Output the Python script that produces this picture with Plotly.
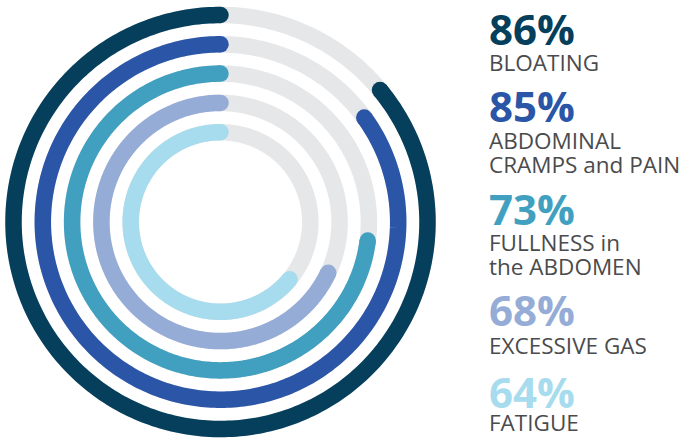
import numpy as np
import plotly.graph_objects as go

# Data
categories = ["BLOATING", "ABDOMINAL\nCRAMPS and PAIN", "FULLNESS in\nthe ABDOMEN", "EXCESSIVE GAS", "FATIGUE"]
values = [86, 85, 73, 68, 64]
colors = ["#063f5c", "#2b55a6", "#41a0bf", "#95acd6", "#a7dcee"]
track_color = "#e6e7e9"
label_color = "#4a4b4d"

W, H = 683, 441
cx, cy = 220.5, 222.0
S = 218.0
ring_outer = 207.0
ring_step = 29.3
ring_w = 16.5

fig = go.Figure()

for i, (v, c) in enumerate(zip(values, colors)):
    r = ring_outer - i * ring_step
    full = np.linspace(0, 360, 361)
    fig.add_trace(go.Scatterpolar(r=[r] * len(full), theta=full, mode="lines",
                                  line=dict(color=track_color, width=ring_w),
                                  hoverinfo="skip", showlegend=False))
for i, (v, c) in enumerate(zip(values, colors)):
    r = ring_outer - i * ring_step
    th = np.linspace(0, v / 100 * 360, 300)
    fig.add_trace(go.Scatterpolar(r=[r] * len(th), theta=th, mode="lines",
                                  line=dict(color=c, width=ring_w),
                                  hoverinfo="skip", showlegend=False))
    fig.add_trace(go.Scatterpolar(r=[r, r], theta=[th[0], th[-1]], mode="markers",
                                  marker=dict(color=c, size=ring_w, line=dict(width=0)),
                                  hoverinfo="skip", showlegend=False))

fig.update_layout(
    width=W, height=H,
    margin=dict(l=0, r=0, t=0, b=0),
    paper_bgcolor="white", plot_bgcolor="white",
    polar=dict(
        domain=dict(x=[(cx - S) / W, (cx + S) / W], y=[(H - cy - S) / H, (H - cy + S) / H]),
        bgcolor="white",
        radialaxis=dict(visible=False, range=[0, S]),
        angularaxis=dict(visible=False, rotation=90, direction="counterclockwise"),
    ),
)

# Text blocks
pct_y = [27.5, 105, 208, 309, 391]
label_lines_y = [[61.5], [139.5, 163.5], [241.5, 266], [345], [421.5]]
tx = 487
for i, (v, c, cat) in enumerate(zip(values, colors, categories)):
    fig.add_annotation(x=tx / W, y=1 - pct_y[i] / H, xref="paper", yref="paper",
                       xanchor="left", yanchor="middle", showarrow=False,
                       text=f"<b>{v}%</b>", height=34, valign="middle",
                       font=dict(family="Open Sans", size=42, color=c))
    for line, ly in zip(cat.split("\n"), label_lines_y[i]):
        fig.add_annotation(x=tx / W, y=1 - ly / H, xref="paper", yref="paper",
                           xanchor="left", yanchor="middle", showarrow=False,
                           text=line, height=20, valign="middle",
                           font=dict(family="Open Sans", size=22.5, color=label_color))

fig.write_html("out.html")
